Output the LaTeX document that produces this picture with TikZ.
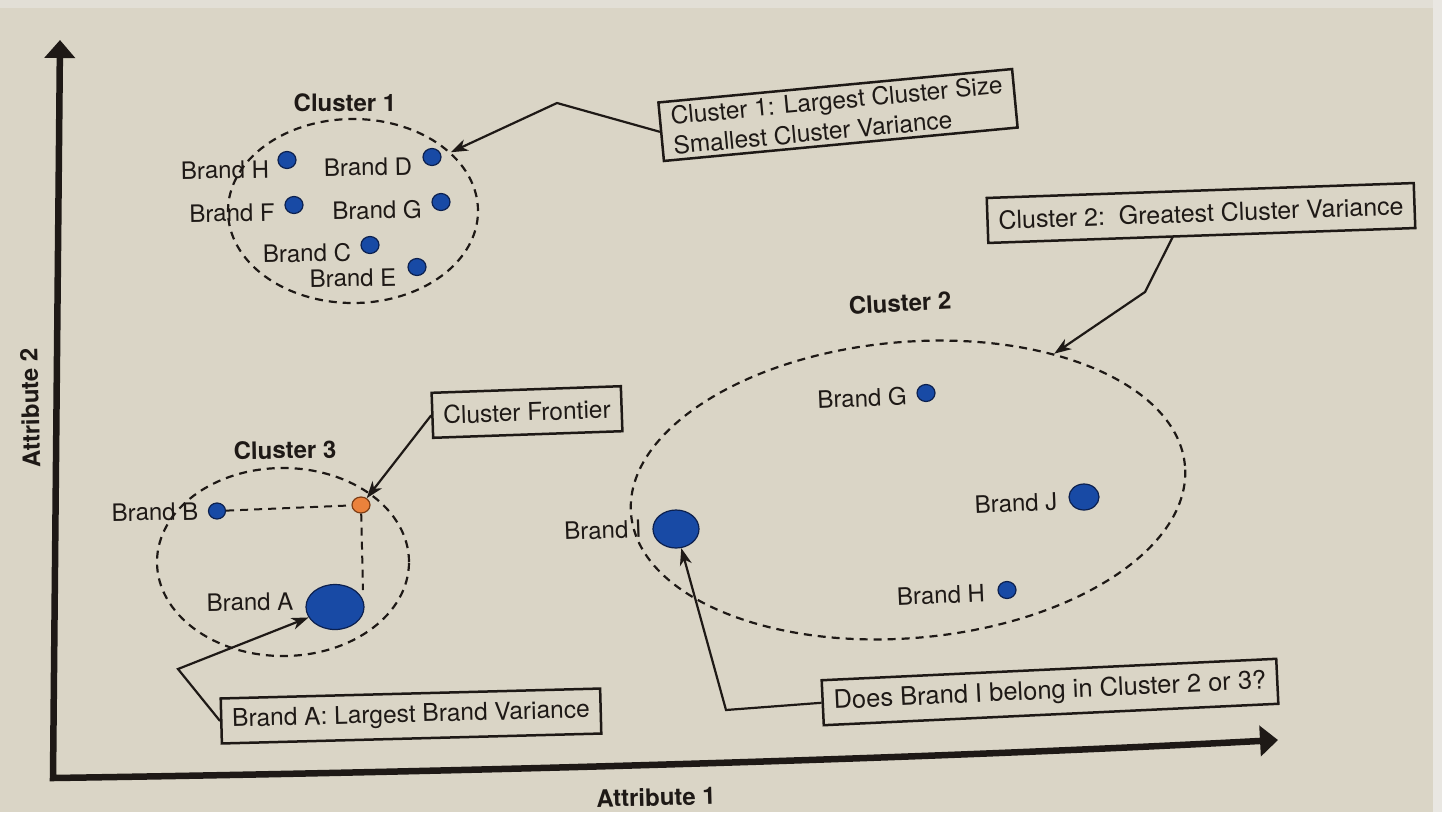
\documentclass[tikz,border=0pt]{standalone}
\usepackage{fontspec}
\setmainfont{TeX Gyre Heros}
\usetikzlibrary{shapes.geometric,arrows.meta,calc}

\definecolor{paper}{RGB}{218,213,198}
\definecolor{paperedge}{RGB}{233,231,226}
\definecolor{papertop}{RGB}{226,223,214}
\definecolor{ink}{RGB}{30,25,22}
\definecolor{dotblue}{RGB}{24,74,165}
\definecolor{dotedge}{RGB}{12,32,78}
\definecolor{frontier}{RGB}{235,130,60}
\definecolor{frontieredge}{RGB}{125,62,22}

\begin{document}
\begin{tikzpicture}[x=1pt,y=-1pt,
  every node/.style={text=ink},
  lbl/.style={font=\fontsize{24}{28}\selectfont, inner sep=0pt},
  clbl/.style={font=\bfseries\fontsize{24}{28}\selectfont, inner sep=0pt},
  dot/.style 2 args={ellipse, draw=dotedge, line width=1.2pt, fill=dotblue,
    inner sep=0pt, minimum width=#1, minimum height=#2},
  cluster/.style={ellipse, draw=ink, dash pattern=on 8pt off 6pt,
    line width=2.2pt, inner sep=0pt},
  callout/.style={draw=ink, fill=paper, line width=2.5pt, inner xsep=11pt,
    minimum height=45pt, font=\fontsize{24.5}{28}\selectfont},
  pointer/.style={draw=ink, line width=2.2pt, line join=miter,
    -{Stealth[length=17pt,width=12pt,inset=5pt]}},
  guide/.style={draw=ink, line width=2pt, dash pattern=on 8pt off 6pt},
  axis/.style={draw=ink, line width=6.5pt, line join=miter,
    {Triangle[length=18pt,width=30pt]}-{Triangle[length=18pt,width=30pt]}}
]
% page
\fill[paper] (0,0) rectangle (1442,812);
\fill[papertop] (0,0) rectangle (1442,8);
\fill[paperedge] (1433,0) rectangle (1442,812);
\useasboundingbox (0,0) rectangle (1442,812);

% axes
\coordinate (O) at (53,778);
\coordinate (ytip) at (60,40);
\coordinate (xtip) at (1278,740);
\draw[axis] (ytip) -- (O) .. controls (450,772) and (900,760) .. (xtip);
\node[clbl, font=\bfseries\fontsize{24}{28}\selectfont, rotate=1.5] (xlab) at (656,797) {Attribute 1};
\node[clbl, rotate=91.5] (ylab) at (30,408) {Attribute 2};

% cluster outlines
\node[cluster, minimum width=250pt, minimum height=184pt] (e1) at (353,211) {};
\node[cluster, minimum width=556pt, minimum height=296pt, rotate=5] (e2) at (908,490) {};
\node[cluster, minimum width=252pt, minimum height=188pt] (e3) at (283,562) {};

\node[clbl] (c1) at (345,103) {Cluster 1};
\node[clbl, rotate=3] (c2) at (900,303) {Cluster 2};
\node[clbl, rotate=1] (c3) at (285,450) {Cluster 3};

% brands, cluster 1
\node[dot={18pt}{17pt}] (bH1) at (287,160) {};
\node[dot={18pt}{17pt}] (bD1) at (432,157) {};
\node[dot={18pt}{17pt}] (bF1) at (294,205) {};
\node[dot={18pt}{17pt}] (bG1) at (441,202) {};
\node[dot={18pt}{17pt}] (bC1) at (370,245) {};
\node[dot={18pt}{17pt}] (bE1) at (417,267) {};
\node[lbl, rotate=1] (tH1) at (225,170) {Brand H};
\node[lbl, rotate=1] (tD1) at (368,167) {Brand D};
\node[lbl, rotate=1] (tF1) at (232,213) {Brand F};
\node[lbl, rotate=1] (tG1) at (377,210) {Brand G};
\node[lbl, rotate=1] (tC1) at (307,253) {Brand C};
\node[lbl, rotate=1] (tE1) at (353,278) {Brand E};

% brands, cluster 2
\node[dot={18pt}{17pt}] (bG2) at (926,393) {};
\node[dot={30pt}{26pt}] (bJ2) at (1084,497) {};
\node[dot={18pt}{17pt}] (bH2) at (1007,590) {};
\node[dot={46pt}{38pt}] (bI) at (676,529) {};
\node[lbl, rotate=2.5] (tG2) at (862,398) {Brand G};
\node[lbl, rotate=2.5] (tJ2) at (1016,503) {Brand J};
\node[lbl, rotate=2.5] (tH2) at (941,595) {Brand H};
\node[lbl, rotate=2] (tI) at (603,530) {Brand I};

% brands, cluster 3 and the frontier point
\coordinate (frfoot) at (363,590);
\node[dot={17pt}{16pt}] (bB) at (217,511) {};
\node[ellipse, draw=frontieredge, line width=1.2pt, fill=frontier, inner sep=0pt,
  minimum width=18pt, minimum height=16pt] (fr) at (361,505) {};
\draw[guide] (bB) -- (fr);
\draw[guide] (fr) -- (frfoot);
\node[dot={58pt}{45pt}] (bA) at (335,607) {};
\node[lbl, rotate=1] (tB) at (155,512) {Brand B};
\node[lbl, rotate=1] (tA) at (250,602) {Brand A};

% callouts
\node[callout, align=left, rotate=5.4, inner ysep=5pt,
  font=\fontsize{24.5}{30}\selectfont] (b1) at (838,115)
  {Cluster 1: Largest Cluster Size\\Smallest Cluster Variance};
\node[callout, rotate=2, font=\fontsize{25}{28}\selectfont] (b2) at (1201,213)
  {Cluster 2:\ \ Greatest Cluster Variance};
\node[callout, rotate=2] (b3) at (527,412) {Cluster Frontier};
\node[callout, rotate=1.5] (b4) at (411,716) {Brand A: Largest Brand Variance};
\node[callout, rotate=2.7, font=\fontsize{25.5}{28}\selectfont] (b5) at (1050,692)
  {Does Brand I belong in Cluster 2 or 3?};

% pointers
\coordinate (k1) at (557,103);
\coordinate (k2) at (1145,292);
\coordinate (k4) at (178,669);
\coordinate (k5) at (726,710);
\draw[pointer] (b1.west) -- (k1) -- (e1.31);
\draw[pointer] ([xshift=-29pt]b2.south) -- (k2) -- (e2.38);
\draw[pointer] (b3.west) -- (fr.50);
\draw[pointer] (b4.west) -- (k4) -- (bA);
\draw[pointer] (b5.west) -- (k5) -- (bI);
\end{tikzpicture}
\end{document}
